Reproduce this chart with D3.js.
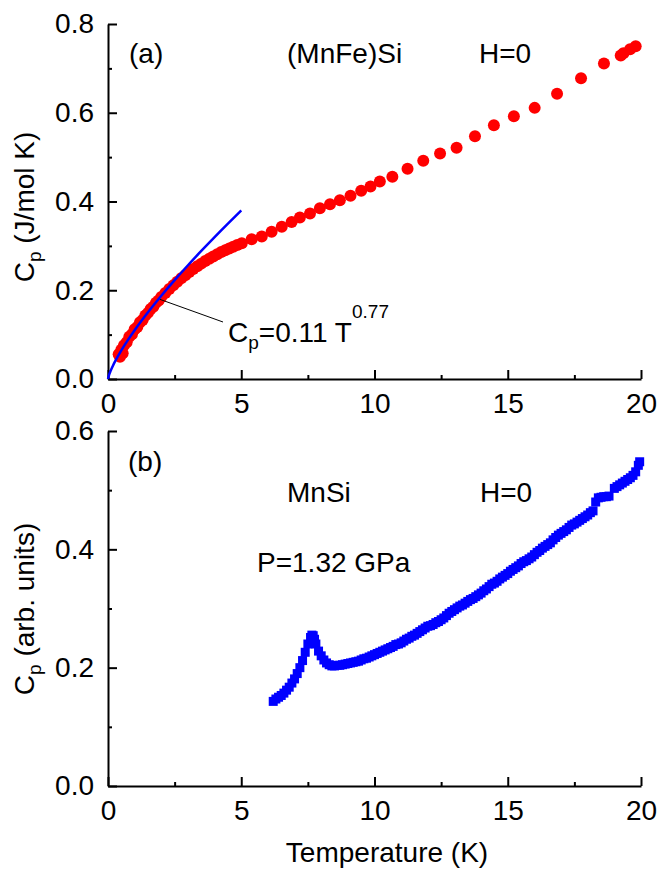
<!DOCTYPE html>
<html>
<head>
<meta charset="utf-8">
<script src="https://cdn.jsdelivr.net/npm/d3@7"></script>
<style>
  html, body { margin: 0; padding: 0; background: #fff; }
  svg { display: block; font-family: "Liberation Sans", Arial, sans-serif; }
</style>
</head>
<body>
<svg id="chart" width="659" height="869"></svg>
<script>
// (a) (MnFe)Si, H=0: specific heat in J/mol K versus temperature in K
const tempA = [0.40, 0.45, 0.50, 0.55, 0.60, 0.70, 0.80, 0.90, 1.00, 1.10, 1.20, 1.30, 1.40, 1.50,
  1.60, 1.70, 1.80, 1.90, 2.00, 2.15, 2.30, 2.45, 2.60, 2.75, 2.90, 3.05, 3.20, 3.35, 3.50,
  3.65, 3.80, 3.95, 4.10, 4.25, 4.40, 4.55, 4.70, 4.85, 5.02, 5.39, 5.77, 6.14, 6.52, 6.89,
  7.20, 7.58, 7.95, 8.33, 8.70, 9.10, 9.50, 9.85, 10.20, 10.67, 11.24, 11.83, 12.46, 13.08,
  13.77, 14.48, 15.23, 16.01, 16.85, 17.75, 18.61, 19.24, 19.34, 19.59, 19.80];
const cpA = [0.056, 0.050, 0.066, 0.058, 0.076, 0.083, 0.095, 0.101, 0.112, 0.117, 0.128, 0.133, 0.143, 0.149,
  0.158, 0.163, 0.172, 0.177, 0.185, 0.194, 0.203, 0.211, 0.219, 0.227, 0.234, 0.241, 0.248, 0.254, 0.260,
  0.266, 0.271, 0.276, 0.281, 0.286, 0.290, 0.294, 0.298, 0.302, 0.306, 0.315, 0.321, 0.332, 0.343, 0.354,
  0.364, 0.373, 0.385, 0.394, 0.403, 0.413, 0.424, 0.434, 0.445, 0.456, 0.474, 0.492, 0.508, 0.521,
  0.547, 0.572, 0.592, 0.611, 0.643, 0.678, 0.711, 0.729, 0.734, 0.743, 0.750];

// power-law fit shown in panel (a): Cp = 0.11 T^0.77, drawn up to 5 K
const fitCoef = 0.11;
const fitExp = 0.77;
const fitTemps = [0, 0.05, 0.1, 0.2, 0.3, 0.5, 0.75, 1, 1.5, 2, 2.5, 3, 3.5, 4, 4.5, 5];

// (b) MnSi, H=0, P=1.32 GPa: specific heat in arbitrary units
const tempB = [6.2, 6.3, 6.4, 6.5, 6.6, 6.7, 6.8, 6.9, 7.0, 7.1, 7.2, 7.3, 7.4, 7.5, 7.6, 7.65, 7.7,
  7.75, 7.8, 7.9, 8.0, 8.1, 8.2, 8.3, 8.4, 8.5, 8.6, 8.7, 8.8, 8.9, 9.0, 9.1, 9.2, 9.3, 9.4,
  9.5, 9.6, 9.7, 9.8, 9.9, 10.0, 10.1, 10.2, 10.3, 10.4, 10.5, 10.6, 10.7, 10.8, 10.9, 11.0,
  11.1, 11.2, 11.3, 11.4, 11.5, 11.6, 11.7, 11.8, 11.9, 12.0, 12.1, 12.2, 12.3, 12.4, 12.5,
  12.6, 12.7, 12.8, 12.9, 13.0, 13.1, 13.2, 13.3, 13.4, 13.5, 13.6, 13.7, 13.8, 13.9, 14.0,
  14.1, 14.2, 14.3, 14.4, 14.5, 14.6, 14.7, 14.8, 14.9, 15.0, 15.1, 15.2, 15.3, 15.4, 15.5,
  15.6, 15.7, 15.8, 15.9, 16.0, 16.1, 16.2, 16.3, 16.4, 16.5, 16.6, 16.7, 16.8, 16.9, 17.0,
  17.1, 17.2, 17.3, 17.4, 17.5, 17.6, 17.7, 17.8, 17.9, 18.0, 18.1, 18.2, 18.3, 18.4, 18.5,
  18.6, 18.7, 18.8, 19.0, 19.1, 19.2, 19.3, 19.4, 19.5, 19.6, 19.7, 19.8, 19.9, 19.95];
const cpB = [0.143, 0.147, 0.150, 0.153, 0.157, 0.162, 0.167, 0.174, 0.181, 0.190, 0.200, 0.212, 0.226, 0.240, 0.251, 0.255, 0.254,
  0.248, 0.240, 0.228, 0.220, 0.213, 0.208, 0.205, 0.203, 0.203, 0.204, 0.204, 0.205, 0.206, 0.207, 0.208, 0.209, 0.210, 0.211,
  0.213, 0.215, 0.216, 0.218, 0.220, 0.222, 0.224, 0.226, 0.228, 0.230, 0.232, 0.234, 0.236, 0.239, 0.240, 0.242,
  0.245, 0.248, 0.250, 0.253, 0.255, 0.258, 0.261, 0.264, 0.267, 0.270, 0.271, 0.273, 0.276, 0.278, 0.281,
  0.284, 0.288, 0.292, 0.295, 0.298, 0.301, 0.304, 0.306, 0.309, 0.312, 0.315, 0.317, 0.320, 0.323, 0.326,
  0.330, 0.333, 0.337, 0.341, 0.343, 0.346, 0.350, 0.353, 0.356, 0.359, 0.363, 0.366, 0.369, 0.372, 0.376,
  0.379, 0.381, 0.384, 0.387, 0.391, 0.395, 0.398, 0.402, 0.405, 0.408, 0.411, 0.416, 0.420, 0.424, 0.427,
  0.430, 0.433, 0.437, 0.441, 0.443, 0.446, 0.449, 0.452, 0.455, 0.458, 0.462, 0.465, 0.480, 0.487, 0.488,
  0.489, 0.489, 0.490, 0.503, 0.506, 0.509, 0.512, 0.515, 0.518, 0.521, 0.525, 0.531, 0.542, 0.548];

const xTicks = [0, 5, 10, 15, 20];
const yTicksA = [0.0, 0.2, 0.4, 0.6, 0.8];
const yTicksB = [0.0, 0.2, 0.4, 0.6];

const svg = d3.select("#chart");
const FONT = 28;

const x = d3.scaleLinear().domain([0, 20]).range([108, 641]);
const yA = d3.scaleLinear().domain([0, 0.8]).range([379, 24]);
const yB = d3.scaleLinear().domain([0, 0.6]).range([786, 431]);

function drawAxes(y, yTicks, yMinor) {
  // minor ticks (no labels)
  svg.append("g")
    .attr("transform", `translate(0,${y.range()[0]})`)
    .call(d3.axisBottom(x).tickValues(d3.range(2.5, 20, 5)).tickSize(-4).tickFormat(""))
    .call(g => g.select(".domain").remove())
    .call(g => g.selectAll("line").attr("stroke", "#000").attr("stroke-width", 2));
  svg.append("g")
    .attr("transform", `translate(${x(0)},0)`)
    .call(d3.axisLeft(y).tickValues(yMinor).tickSize(-4).tickFormat(""))
    .call(g => g.select(".domain").remove())
    .call(g => g.selectAll("line").attr("stroke", "#000").attr("stroke-width", 2));

  // major ticks with labels
  const gx = svg.append("g")
    .attr("transform", `translate(0,${y.range()[0]})`)
    .call(d3.axisBottom(x).tickValues(xTicks).tickSize(-9).tickSizeOuter(0)
      .tickPadding(14).tickFormat(d3.format("d")));
  const gy = svg.append("g")
    .attr("transform", `translate(${x(0)},0)`)
    .call(d3.axisLeft(y).tickValues(yTicks).tickSize(-9).tickSizeOuter(0)
      .tickPadding(14).tickFormat(d3.format(".1f")));
  [gx, gy].forEach(g => {
    g.attr("font-family", null).attr("font-size", null);
    g.select(".domain").attr("stroke", "#000").attr("stroke-width", 2);
    g.selectAll("line").attr("stroke", "#000").attr("stroke-width", 2);
    g.selectAll("text").attr("fill", "#000").style("font-size", FONT + "px");
  });
}

drawAxes(yA, yTicksA, d3.range(0.1, 0.8, 0.2));
drawAxes(yB, yTicksB, d3.range(0.1, 0.6, 0.2));

// panel (a) data
const dataA = tempA.map((t, i) => ({ t, c: cpA[i] }));
svg.append("g").selectAll("circle")
  .data(dataA).join("circle")
  .attr("cx", d => x(d.t))
  .attr("cy", d => yA(d.c))
  .attr("r", 6)
  .attr("fill", "#ff0000");

// fit curve
const fitLine = d3.line()
  .x(t => x(t))
  .y(t => yA(fitCoef * Math.pow(t, fitExp)))
  .curve(d3.curveMonotoneX);
svg.append("path")
  .datum(fitTemps)
  .attr("d", fitLine)
  .attr("fill", "none")
  .attr("stroke", "#0000ff")
  .attr("stroke-width", 2.5);

// panel (b) data
const dataB = tempB.map((t, i) => ({ t, c: cpB[i] }));
const sq = 9;
svg.append("g").selectAll("rect")
  .data(dataB).join("rect")
  .attr("x", d => x(d.t) - sq / 2)
  .attr("y", d => yB(d.c) - sq / 2)
  .attr("width", sq)
  .attr("height", sq)
  .attr("fill", "#0000ff");

// text helpers
function label(xp, yp, str, size = FONT) {
  return svg.append("text")
    .attr("x", xp).attr("y", yp)
    .style("font-size", size + "px")
    .attr("fill", "#000")
    .text(str);
}

// panel (a) annotations
label(129, 63, "(a)");
label(287, 63, "(MnFe)Si");
label(479, 63, "H=0");

// leader line to the fit
svg.append("line")
  .attr("x1", x(1.95)).attr("y1", yA(fitCoef * Math.pow(1.95, fitExp)) + 2)
  .attr("x2", 223).attr("y2", 322)
  .attr("stroke", "#000").attr("stroke-width", 1);

const fitText = svg.append("text")
  .attr("x", 228).attr("y", 342)
  .attr("fill", "#000")
  .style("font-size", FONT + "px");
fitText.append("tspan").text("C");
fitText.append("tspan").attr("dy", 7).style("font-size", "19px").text("p");
fitText.append("tspan").attr("dy", -7).text("=0.11 T");
fitText.append("tspan").attr("dy", -24).style("font-size", "19px").text("0.77");

// panel (b) annotations
label(128, 471, "(b)");
label(287, 502, "MnSi");
label(480, 502, "H=0");
label(257, 572, "P=1.32 GPa");

// axis titles
function yTitle(cx, cy, rest) {
  const t = svg.append("text")
    .attr("transform", `translate(${cx},${cy}) rotate(-90)`)
    .attr("text-anchor", "middle")
    .attr("fill", "#000")
    .style("font-size", FONT + "px");
  t.append("tspan").text("C");
  t.append("tspan").attr("dy", 7).style("font-size", "19px").text("p");
  t.append("tspan").attr("dy", -7).text(" " + rest);
}
yTitle(34, 207, "(J/mol K)");
yTitle(34, 609, "(arb. units)");

svg.append("text")
  .attr("x", 387).attr("y", 862)
  .attr("text-anchor", "middle")
  .attr("fill", "#000")
  .style("font-size", FONT + "px")
  .text("Temperature (K)");
</script>
</body>
</html>
